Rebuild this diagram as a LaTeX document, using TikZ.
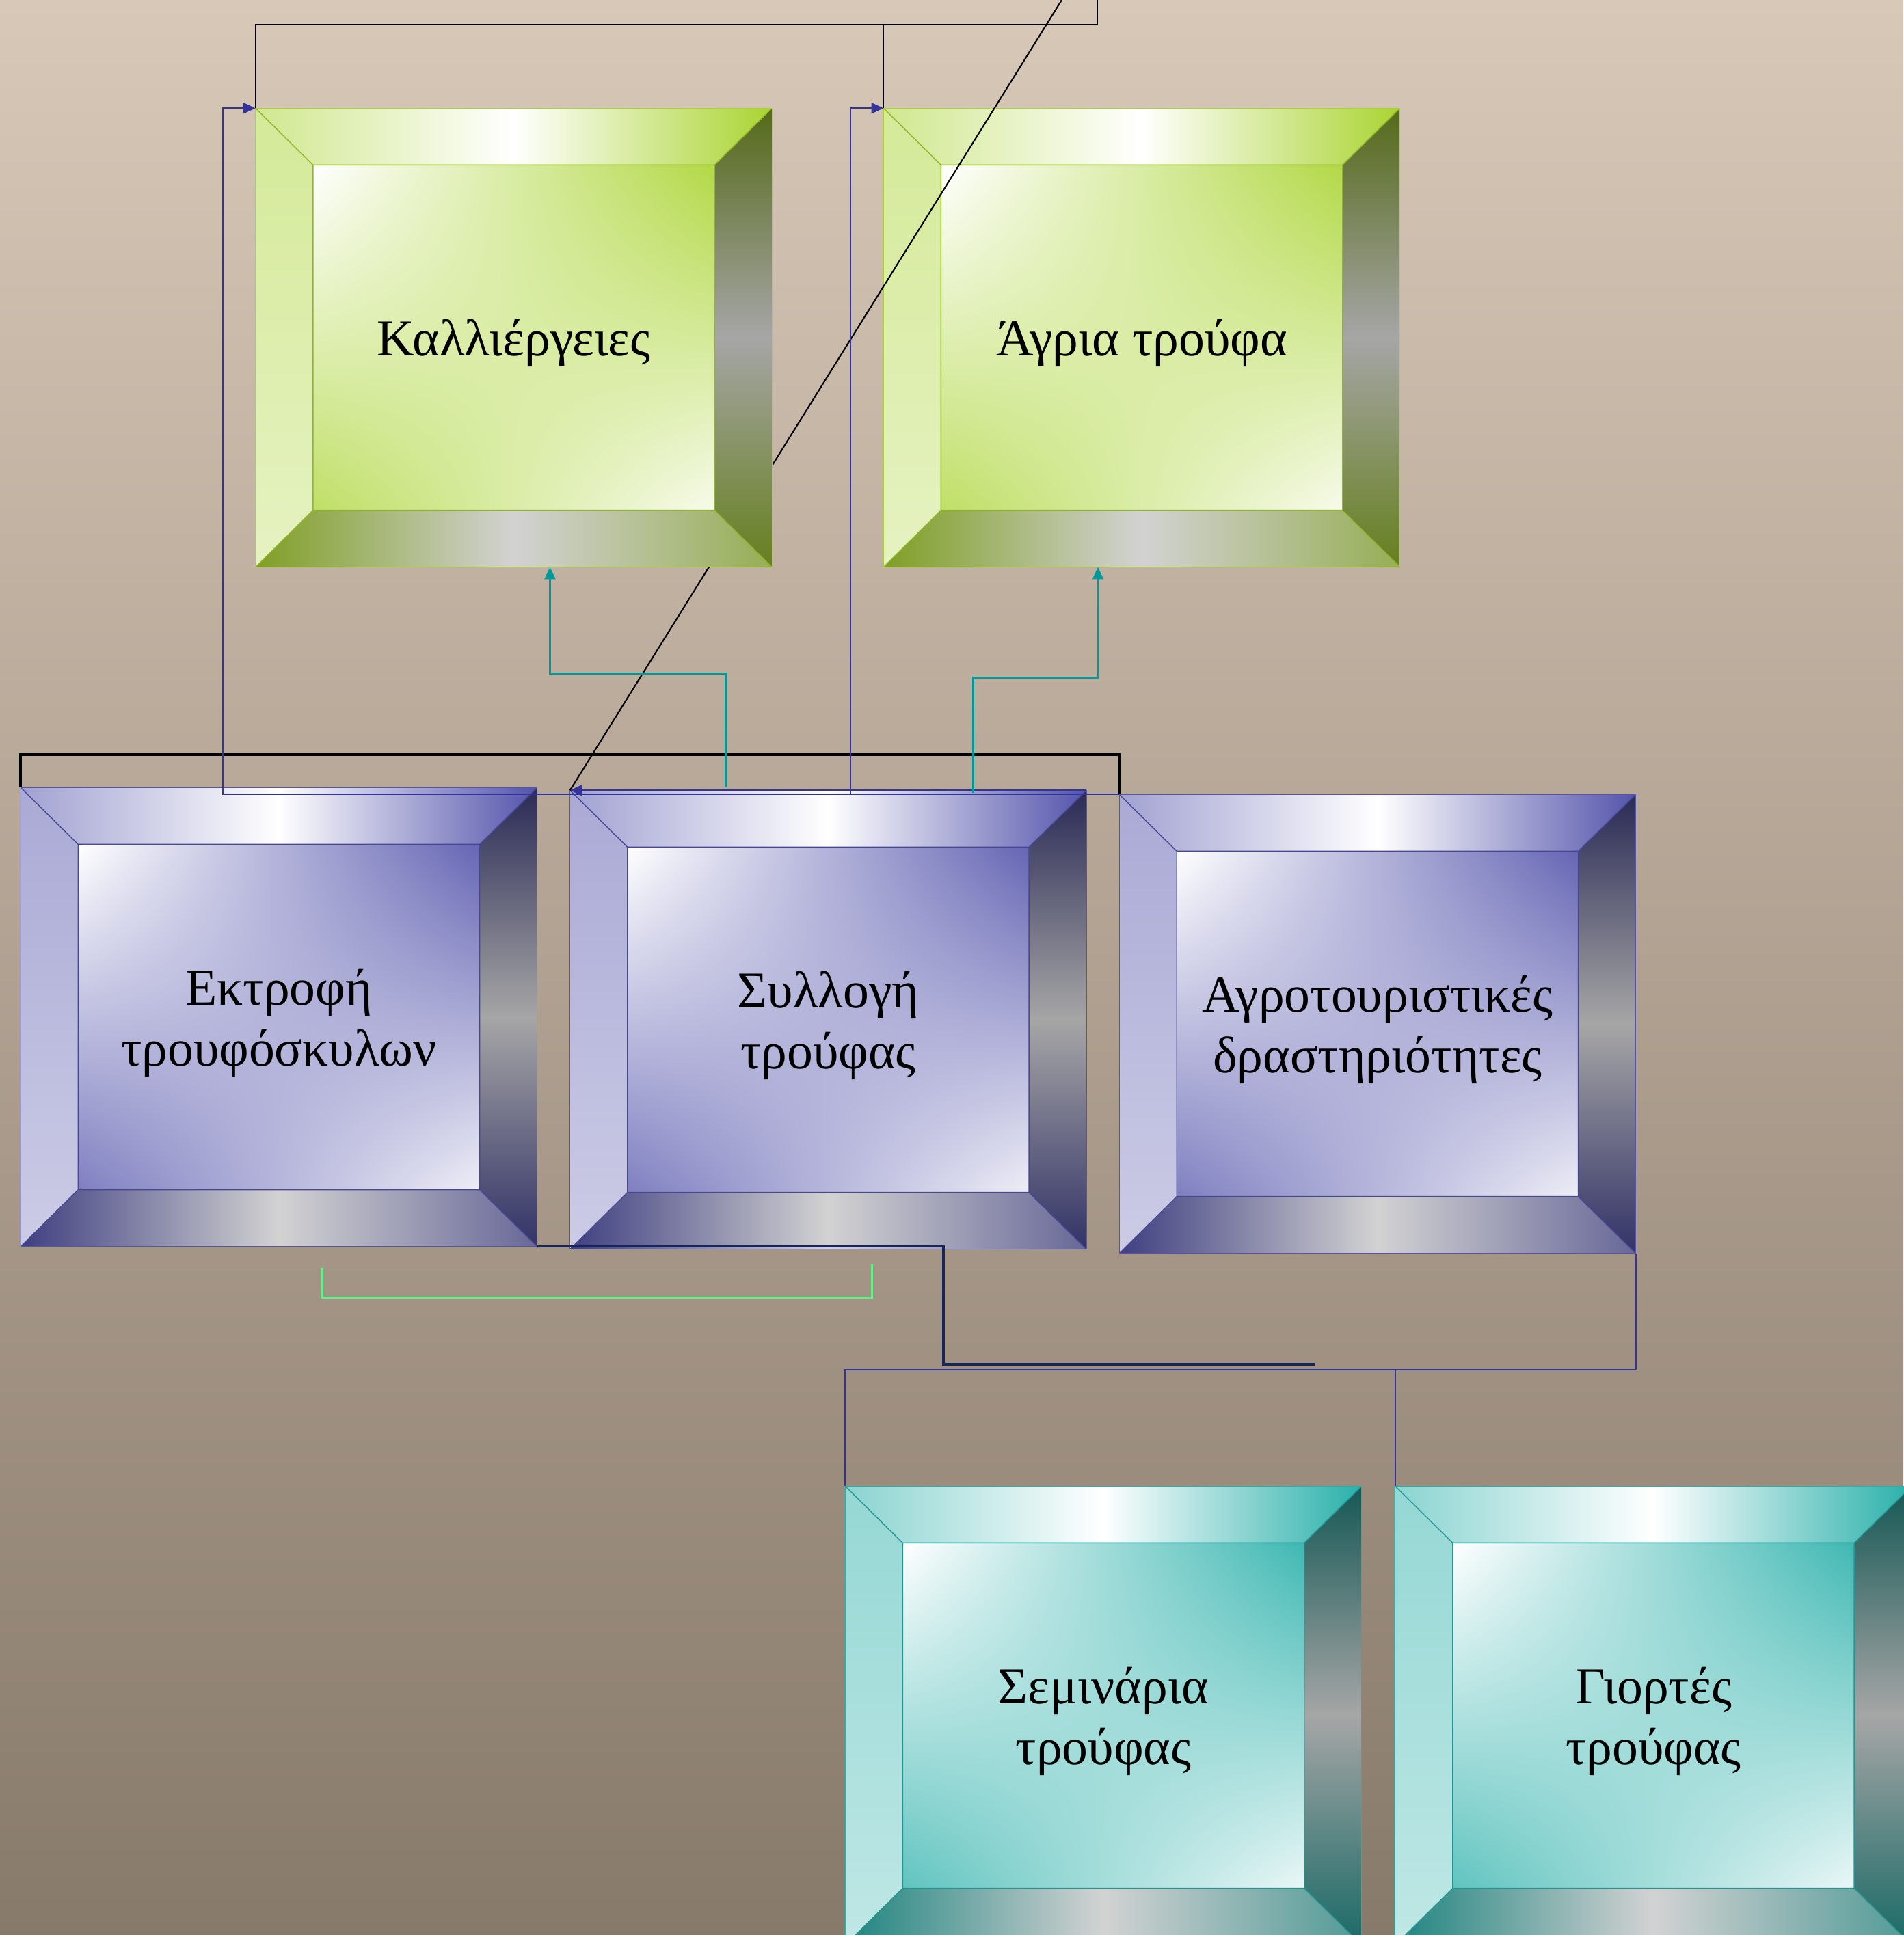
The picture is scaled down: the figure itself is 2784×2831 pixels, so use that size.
\documentclass[tikz,border=0pt]{standalone}
\usepackage{fontspec}
\setmainfont{Liberation Serif}
\usetikzlibrary{arrows.meta,positioning,calc,shadings}

\definecolor{bgtop}{RGB}{216,200,184}
\definecolor{bgbot}{RGB}{136,122,107}
\definecolor{grn}{RGB}{170,212,50}
\definecolor{vio}{RGB}{84,84,172}
\definecolor{cyn}{RGB}{42,176,170}
\definecolor{bluline}{RGB}{51,51,153}
\definecolor{telline}{RGB}{0,153,153}
\definecolor{mntline}{RGB}{102,238,136}
\definecolor{nvyline}{RGB}{22,38,88}

\newcommand\bevelfill[1]{%
  \path (path picture bounding box.north west) coordinate (o1)
        (path picture bounding box.north east) coordinate (o2)
        (path picture bounding box.south east) coordinate (o3)
        (path picture bounding box.south west) coordinate (o4);
  \path ($(o1)+(0.84cm,-0.83cm)$) coordinate (i1) ($(o2)+(-0.84cm,-0.83cm)$) coordinate (i2)
        ($(o3)+(-0.84cm,0.83cm)$) coordinate (i3) ($(o4)+(0.84cm,0.83cm)$) coordinate (i4);
  \shade[upper left=white,upper right=#1!90!white,lower left=#1!75!white,lower right=#1!10!white]
    (i1) rectangle (i3);
  \shade[left color=#1!55!white,right color=#1,middle color=white] (o1) -- (o2) -- (i2) -- (i1) -- cycle;
  \shade[top color=#1!50!white,bottom color=#1!30!white] (o1) -- (i1) -- (i4) -- (o4) -- cycle;
  \shade[top color=#1!50!black,bottom color=#1!60!black,middle color=gray!70] (o2) -- (o3) -- (i3) -- (i2) -- cycle;
  \shade[left color=#1!75!black,right color=#1!55!gray,middle color=gray!35] (o4) -- (i4) -- (i3) -- (o3) -- cycle;
  \draw[#1!85!black,line width=0.4pt] (i1) rectangle (i3) (o1) -- (i1) (o2) -- (i2) (o3) -- (i3) (o4) -- (i4);
}

\begin{document}
\begin{tikzpicture}[x=0.01cm,y=-0.01cm,>={Triangle[length=5pt,width=4.5pt]},
    bevelbox/.style={minimum width=7.55cm,minimum height=6.71cm,inner sep=0pt,outer sep=0pt,
      align=center,font=\fontsize{21.5}{25.3}\selectfont,text depth=-0.1cm,
      draw=#1,path picture={\bevelfill{#1}}},
    blk/.style={draw=black,line width=0.6pt},
    blkthick/.style={draw=black,line width=1.1pt},
    blu/.style={draw=bluline,line width=0.6pt},
    tel/.style={draw=telline,line width=0.7pt},
    mnt/.style={draw=mntline,line width=0.9pt},
    nvy/.style={draw=nvyline,line width=1pt}]
  \useasboundingbox (0,0) rectangle (2784,2831);
  \shade[top color=bgtop,bottom color=bgbot] (0,0) rectangle (2784,2831);

  \node[bevelbox=grn] (agr) at (1670,494) {Άγρια τρούφα};
  \node[bevelbox=vio] (ekt) at (408,1488) {Εκτροφή\\τρουφόσκυλων};
  \node[bevelbox=vio] (syl) [right=0.48cm of ekt,yshift=-0.04cm] {Συλλογή\\τρούφας};
  \node[bevelbox=vio] (agro) [right=0.48cm of syl,yshift=-0.06cm] {Αγροτουριστικές\\δραστηριότητες};
  \node[bevelbox=cyn] (sem) at (1614,2510) {Σεμινάρια\\τρούφας};
  \node[bevelbox=cyn] (gio) [right=0.49cm of sem] {Γιορτές\\τρούφας};

  \coordinate (topB) at (1553,0);
  \draw[blk] (topB) -- (syl.north west);

  \node[bevelbox=grn] (kal) [left=1.63cm of agr] {Καλλιέργειες};

  \coordinate (topA) at (1605,0);
  \coordinate (hubA) at (1605,36);
  \draw[blk] (topA) -- (hubA) -| (kal.north west);
  \draw[blk] (hubA) -| (agr.north west);

  \draw[blkthick] (ekt.north west) -- ++(0,-48) -| (agro.north west);

  \coordinate (jA) at ($(agr.north west)+(-48,0)$);
  \draw[blu,->] (agro.north west) -| ($(kal.north west)+(-48,0)$) -- (kal.north west);
  \draw[blu,->] (jA |- agro.north west) -- (jA) -- (agr.north west);
  \draw[blu,->] (syl.north east) -- (syl.north west);

  \coordinate (tA) at ($(syl.north)+(-150,-4)$);
  \coordinate (tB) at ($(syl.north)+(212,4)$);
  \draw[tel,->] (tA) -- ++(0,-167) -| ($(kal.south)+(53,0)$);
  \draw[tel,->] (tB) -- ++(0,-169) -| ($(agr.south)+(-64,0)$);

  \coordinate (mA) at ($(ekt.south)+(63,31)$);
  \coordinate (mB) at ($(syl.south)+(64,22)$);
  \draw[mnt] (mA) |- ($(mB)+(0,49)$) -- (mB);

  \coordinate (nE) at (1924,1996);
  \draw[nvy] (ekt.south east) -| ($(nE)+(-544,0)$) -- (nE);

  \draw[blu] (agro.south east) |- ($(sem.north west)+(0,-170)$) -- (sem.north west);
  \draw[blu] (gio.north west) -- ++(0,-170);
\end{tikzpicture}
\end{document}
